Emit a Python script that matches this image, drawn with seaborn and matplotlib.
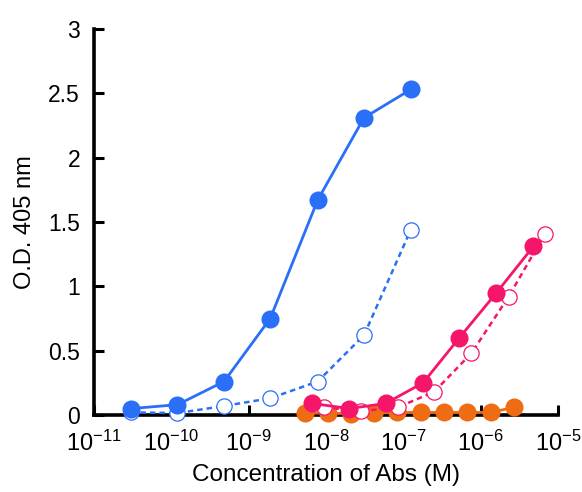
import numpy as np
import pandas as pd
import matplotlib
matplotlib.use("Agg")
import matplotlib.pyplot as plt
import seaborn as sns
from matplotlib.ticker import LogFormatterSciNotation, NullLocator

sns.set_theme(style="white")
plt.rcParams['font.family'] = ['Liberation Sans', 'DejaVu Sans']
plt.rcParams['mathtext.default'] = 'regular'

# Data (concentration in M, O.D. 405 nm)
blue_x = [3.0e-11, 1.2e-10, 4.8e-10, 1.9e-9, 7.8e-9, 3.1e-8, 1.25e-7]
blue_solid_y = [0.05, 0.08, 0.26, 0.75, 1.67, 2.31, 2.53]
blue_open_y = [0.02, 0.015, 0.07, 0.13, 0.26, 0.62, 1.44]

pink_solid_x = [6.6e-9, 2.0e-8, 5.9e-8, 1.8e-7, 5.3e-7, 1.6e-6, 4.8e-6]
pink_solid_y = [0.09, 0.05, 0.09, 0.25, 0.60, 0.95, 1.31]
pink_open_x = [9.4e-9, 2.8e-8, 8.5e-8, 2.5e-7, 7.6e-7, 2.3e-6, 6.8e-6]
pink_open_y = [0.06, 0.03, 0.06, 0.18, 0.48, 0.92, 1.41]

orange_x = [5.3e-9, 1.05e-8, 2.1e-8, 4.2e-8, 8.4e-8, 1.7e-7, 3.4e-7, 6.7e-7, 1.35e-6, 2.7e-6]
orange_y = [0.015, 0.015, 0.01, 0.015, 0.02, 0.02, 0.02, 0.02, 0.02, 0.06]

xticks = [1e-11, 1e-10, 1e-9, 1e-8, 1e-7, 1e-6, 1e-5]
yticks = [0, 0.5, 1, 1.5, 2, 2.5, 3]
ytick_labels = ['0', '0.5', '1', '1.5', '2', '2.5', '3']

BLUE = "#2a6ff8"
PINK = "#f5166c"
ORANGE = "#ee6c14"

fig = plt.figure(figsize=(5.82, 4.92), dpi=100)
ax = fig.add_axes([94/582, 1-415/492, (558-94)/582, (415-29)/492])

common = dict(ax=ax, marker='o', clip_on=False, sort=False, estimator=None)

sns.lineplot(x=blue_x, y=blue_open_y, color=BLUE, linewidth=1.8,
             linestyle=(0, (2.2, 1.6)), markersize=11, markerfacecolor='white',
             markeredgecolor=BLUE, markeredgewidth=0.9, zorder=3, **common)
sns.lineplot(x=blue_x, y=blue_solid_y, color=BLUE, linewidth=2.0,
             markersize=13, markeredgewidth=0, zorder=4, **common)

sns.lineplot(x=orange_x, y=orange_y, color=ORANGE, linewidth=2.0,
             markersize=13, markeredgewidth=0, zorder=3, **common)

sns.lineplot(x=pink_open_x, y=pink_open_y, color=PINK, linewidth=1.8,
             linestyle=(0, (2.2, 1.6)), markersize=11, markerfacecolor='white',
             markeredgecolor=PINK, markeredgewidth=0.9, zorder=4, **common)
sns.lineplot(x=pink_solid_x, y=pink_solid_y, color=PINK, linewidth=2.0,
             markersize=13, markeredgewidth=0, zorder=5, **common)

ax.set_xscale('log')
ax.set_xlim(1e-11, 1e-5)
ax.set_ylim(0, 3)
ax.set_xticks(xticks)
ax.xaxis.set_major_formatter(LogFormatterSciNotation())
ax.xaxis.set_minor_locator(NullLocator())
ax.set_yticks(yticks)
ax.set_yticklabels(ytick_labels)

sns.despine(ax=ax)
for s in ['left', 'bottom']:
    ax.spines[s].set_linewidth(2.6)
    ax.spines[s].set_color('black')
ax.tick_params(axis='both', which='major', direction='in', length=7, width=2.2,
               colors='black', left=True, bottom=True)
ax.tick_params(axis='y', pad=10, labelsize=16.5)
ax.tick_params(axis='x', pad=11, labelsize=17)

ax.set_xlabel('Concentration of Abs (M)', fontsize=17.5, color='black', labelpad=6)
ax.set_ylabel('O.D. 405 nm', fontsize=17, color='black', labelpad=9)

fig.savefig('out.png', dpi=100)
